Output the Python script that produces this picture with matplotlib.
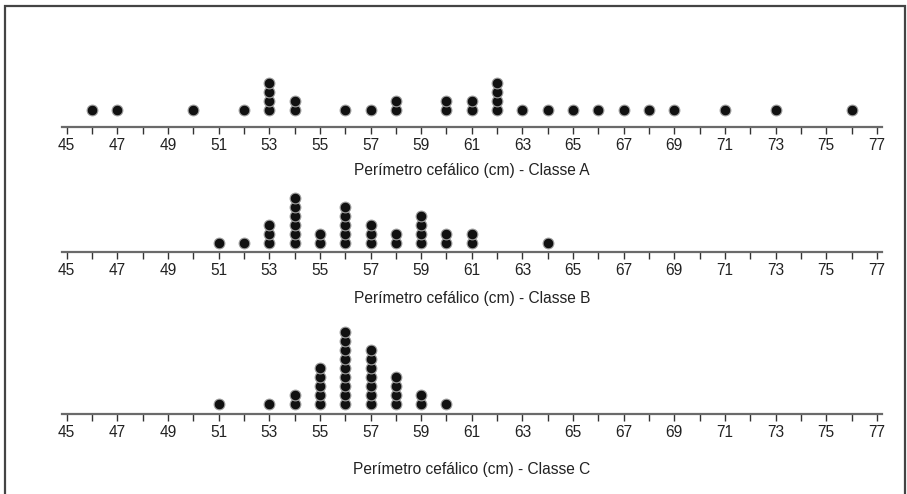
import numpy as np
import matplotlib
matplotlib.use('Agg')
import matplotlib.pyplot as plt
from matplotlib.patches import Rectangle

plt.rcParams['font.family'] = ['Liberation Sans', 'DejaVu Sans']

# perimetro cefalico (cm) -> numero de alunos
classe_a_vals = [46, 47, 50, 52, 53, 54, 56, 57, 58, 60, 61, 62, 63, 64, 65, 66, 67, 68, 69, 71, 73, 76]
classe_a_cnt = [1, 1, 1, 1, 4, 2, 1, 1, 2, 2, 2, 4, 1, 1, 1, 1, 1, 1, 1, 1, 1, 1]

classe_b_vals = [51, 52, 53, 54, 55, 56, 57, 58, 59, 60, 61, 64]
classe_b_cnt = [1, 1, 3, 6, 2, 5, 3, 2, 4, 2, 2, 1]

classe_c_vals = [51, 53, 54, 55, 56, 57, 58, 59, 60]
classe_c_cnt = [1, 1, 2, 5, 9, 7, 4, 2, 1]

labels = ['Perímetro cefálico (cm) - Classe A',
          'Perímetro cefálico (cm) - Classe B',
          'Perímetro cefálico (cm) - Classe C']

W, H = 907, 494
fig = plt.figure(figsize=(W / 100, H / 100), dpi=100)

# moldura
fig.patches.append(Rectangle((5 / W, -0.1), (W - 7) / W, 1.1 - 6 / H,
                             transform=fig.transFigure, fill=False,
                             edgecolor='#444444', lw=1.6))

x0, x1 = 62, 882
# (linha do eixo em px a partir do topo, altura, deslocamento do 1o ponto, y do rotulo)
paineis = [(126.7, 100, 17, 170, classe_a_vals, classe_a_cnt),
           (252.0, 90, 8.5, 299, classe_b_vals, classe_b_cnt),
           (414.0, 100, 10, 469, classe_c_vals, classe_c_cnt)]

step = 9.0
for k, (yline, h, off, ylab, vals, cnt) in enumerate(paineis):
    ax = fig.add_axes([x0 / W, (H - yline) / H, (x1 - x0) / W, h / H])
    ax.set_xlim(44.815, 77.2)
    ax.set_ylim(0, h)
    xs, ys = [], []
    for v, c in zip(vals, cnt):
        for i in range(c):
            xs.append(v)
            ys.append(off + step * i)
    ax.scatter(xs, ys, s=60, facecolor='#111111', edgecolor='#a0a0a0',
               linewidths=0.8, zorder=3, clip_on=False)
    for s in ['top', 'left', 'right']:
        ax.spines[s].set_visible(False)
    ax.spines['bottom'].set_color('#6a6a6a')
    ax.spines['bottom'].set_linewidth(1.6)
    ax.set_yticks([])
    ax.set_xticks(range(45, 78, 2))
    ax.set_xticks(range(46, 77, 2), minor=True)
    ax.tick_params(axis='x', which='both', direction='out', length=5,
                   width=1, color='#333333', labelsize=11.2, pad=3,
                   labelcolor='#222222')
    ax.patch.set_alpha(0)
    fig.text((x0 + x1) / 2 / W, (H - ylab) / H, labels[k], ha='center',
             va='center', fontsize=11.2, color='#222222')

plt.savefig('out.png', dpi=100)
